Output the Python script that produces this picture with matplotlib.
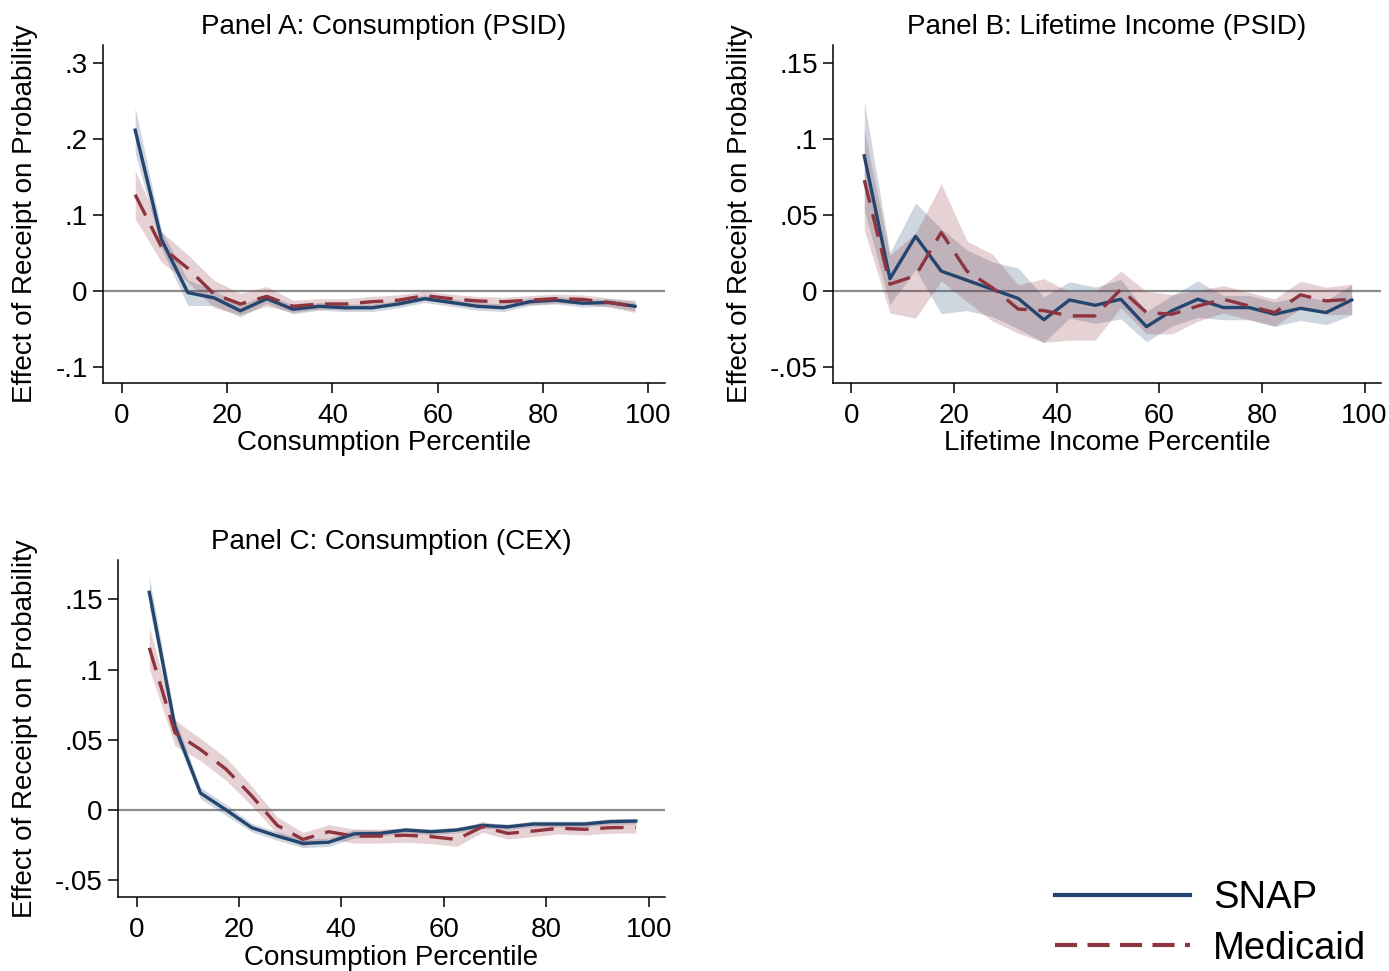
import matplotlib
matplotlib.use('Agg')
import matplotlib.pyplot as plt
import numpy as np

plt.rcParams['font.family'] = ['Liberation Sans', 'DejaVu Sans']

pct = [2.5, 7.5, 12.5, 17.5, 22.5, 27.5, 32.5, 37.5, 42.5, 47.5,
       52.5, 57.5, 62.5, 67.5, 72.5, 77.5, 82.5, 87.5, 92.5, 97.5]

# Panel A: consumption (PSID)
a_snap = [0.212, 0.068, -0.002, -0.009, -0.026, -0.010, -0.024, -0.020, -0.022, -0.022,
          -0.017, -0.010, -0.015, -0.020, -0.022, -0.014, -0.012, -0.016, -0.015, -0.020]
a_snap_ci = [0.030, 0.012, 0.017, 0.010, 0.008, 0.006, 0.006, 0.005, 0.005, 0.005,
             0.005, 0.005, 0.005, 0.005, 0.005, 0.005, 0.005, 0.005, 0.005, 0.006]
a_med = [0.127, 0.058, 0.030, -0.004, -0.017, -0.007, -0.020, -0.017, -0.017, -0.014,
         -0.012, -0.006, -0.010, -0.013, -0.014, -0.012, -0.010, -0.011, -0.015, -0.020]
a_med_ci = [0.032, 0.020, 0.018, 0.018, 0.014, 0.013, 0.008, 0.007, 0.007, 0.007,
            0.007, 0.006, 0.006, 0.006, 0.006, 0.006, 0.006, 0.006, 0.006, 0.008]

# Panel B: lifetime income (PSID)
b_snap = [0.089, 0.008, 0.036, 0.013, 0.007, 0.001, -0.005, -0.019, -0.006, -0.0095,
          -0.0055, -0.0236, -0.013, -0.0055, -0.011, -0.011, -0.0154, -0.0115, -0.0143, -0.006]
b_snap_ci = [0.036, 0.017, 0.022, 0.028, 0.020, 0.018, 0.020, 0.015, 0.012, 0.012,
             0.013, 0.010, 0.010, 0.012, 0.008, 0.008, 0.008, 0.008, 0.008, 0.010]
b_med = [0.073, 0.0044, 0.010, 0.0385, 0.013, 0.002, -0.012, -0.013, -0.0165, -0.0165,
         0.001, -0.0143, -0.0154, -0.010, -0.0055, -0.010, -0.0143, -0.0026, -0.0066, -0.0055]
b_med_ci = [0.033, 0.019, 0.028, 0.032, 0.020, 0.022, 0.016, 0.021, 0.016, 0.016,
            0.012, 0.014, 0.013, 0.010, 0.009, 0.009, 0.009, 0.009, 0.009, 0.010]

# Panel C: consumption (CEX)
c_snap = [0.155, 0.0595, 0.012, 0.0, -0.0126, -0.0186, -0.0238, -0.023, -0.017, -0.0167,
          -0.0143, -0.0155, -0.0143, -0.011, -0.012, -0.010, -0.010, -0.010, -0.0083, -0.0079]
c_snap_ci = [0.011, 0.006, 0.004, 0.004, 0.003, 0.003, 0.003, 0.003, 0.003, 0.002,
             0.002, 0.002, 0.002, 0.002, 0.002, 0.002, 0.002, 0.002, 0.002, 0.002]
c_med = [0.1155, 0.055, 0.043, 0.029, 0.010, -0.011, -0.021, -0.0155, -0.0186, -0.0186,
         -0.018, -0.019, -0.021, -0.012, -0.0167, -0.015, -0.013, -0.0138, -0.0126, -0.0124]
c_med_ci = [0.015, 0.009, 0.008, 0.008, 0.007, 0.006, 0.005, 0.005, 0.005, 0.005,
            0.005, 0.005, 0.005, 0.004, 0.004, 0.004, 0.004, 0.004, 0.004, 0.004]

snap_col = '#24466e'
med_col = '#8e343f'
fs = 20

def panel(ax, snap, snap_ci, med, med_ci, title, xlabel, yticks, ylabels, ylim, ylab_x):
    x = np.array(pct)
    s, sc = np.array(snap), np.array(snap_ci)
    m, mc = np.array(med), np.array(med_ci)
    ax.axhline(0, color='#8c8c8c', lw=1.6, zorder=1)
    ax.fill_between(x, s - sc, s + sc, color=snap_col, alpha=0.22, lw=0, zorder=2)
    ax.fill_between(x, m - mc, m + mc, color=med_col, alpha=0.22, lw=0, zorder=2)
    ax.plot(x, s, color=snap_col, lw=2.4, zorder=4, label='SNAP')
    ax.plot(x, m, color=med_col, lw=2.4, dashes=(7, 3.5), zorder=5, label='Medicaid')
    ax.set_xlim(-3.6, 103.2)
    ax.set_ylim(*ylim)
    ax.set_xticks([0, 20, 40, 60, 80, 100])
    ax.set_yticks(yticks)
    ax.set_yticklabels(ylabels)
    ax.tick_params(labelsize=fs, length=7, width=1.1, direction='out', pad=4)
    ax.tick_params(axis='x', pad=7.5)
    ax.spines['top'].set_visible(False)
    ax.spines['right'].set_visible(False)
    ax.spines['left'].set_linewidth(1.1)
    ax.spines['bottom'].set_linewidth(1.1)
    ax.set_title(title, fontsize=fs, pad=8)
    ax.set_xlabel(xlabel, fontsize=fs, labelpad=1)
    ax.set_ylabel('Effect of Receipt on Probability', fontsize=fs)
    ax.yaxis.set_label_coords(ylab_x, 0.5)

fig = plt.figure(figsize=(13.89, 9.71), dpi=100)
ax1 = fig.add_axes([0.0742, 0.6056, 0.4046, 0.348])
ax2 = fig.add_axes([0.5997, 0.6056, 0.3945, 0.348])
ax3 = fig.add_axes([0.0850, 0.0762, 0.3938, 0.347])

panel(ax1, a_snap, a_snap_ci, a_med, a_med_ci, 'Panel A: Consumption (PSID)',
      'Consumption Percentile', [-0.1, 0, 0.1, 0.2, 0.3], ['-.1', '0', '.1', '.2', '.3'],
      (-0.121, 0.324), -0.116)
panel(ax2, b_snap, b_snap_ci, b_med, b_med_ci, 'Panel B: Lifetime Income (PSID)',
      'Lifetime Income Percentile', [-0.05, 0, 0.05, 0.1, 0.15], ['-.05', '0', '.05', '.1', '.15'],
      (-0.0607, 0.162), -0.146)
panel(ax3, c_snap, c_snap_ci, c_med, c_med_ci, 'Panel C: Consumption (CEX)',
      'Consumption Percentile', [-0.05, 0, 0.05, 0.1, 0.15], ['-.05', '0', '.05', '.1', '.15'],
      (-0.062, 0.178), -0.146)

h, l = ax3.get_legend_handles_labels()
leg = fig.legend(h, l, loc='lower right', bbox_to_anchor=(1.0085, -0.031), frameon=False,
                 fontsize=27.5, handlelength=3.55, handletextpad=0.6, labelspacing=0.38)
lines = leg.get_lines()
for ln in lines:
    ln.set_linewidth(3)
lines[1].set_dashes((5.3, 2.5))

fig.savefig('out.png', dpi=100)
